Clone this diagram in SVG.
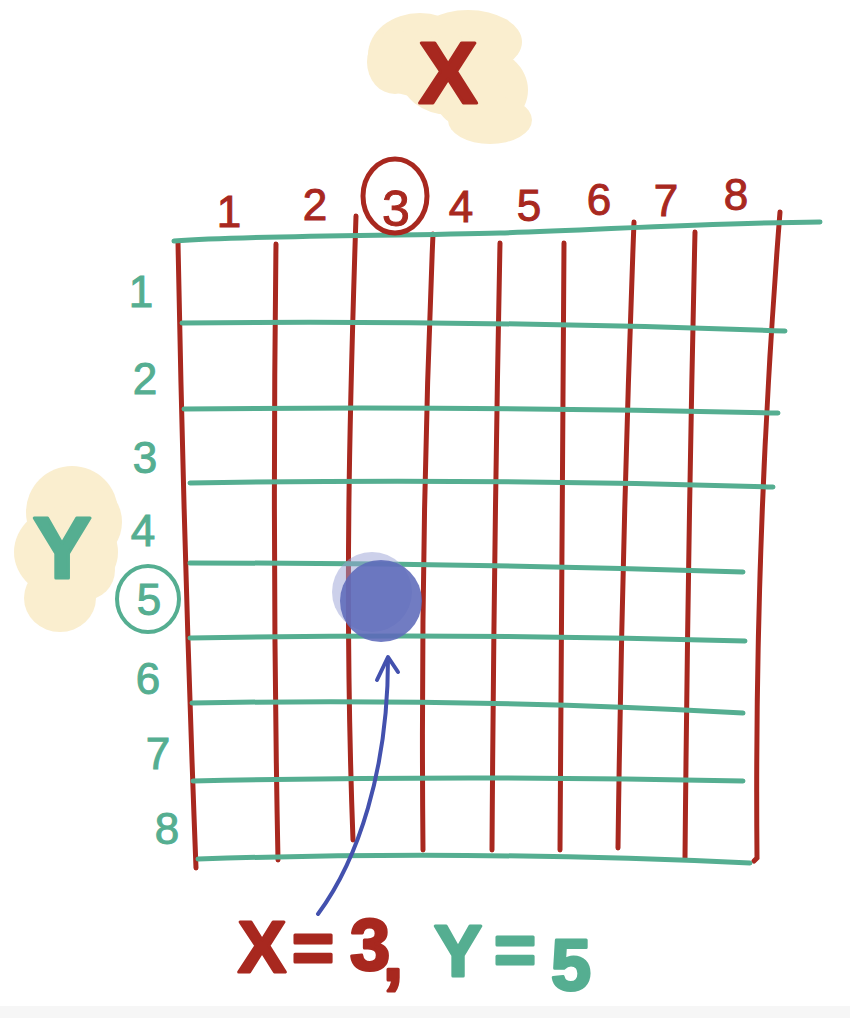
<svg xmlns="http://www.w3.org/2000/svg" width="850" height="1018" viewBox="0 0 850 1018">
<style>
.red{stroke:#a8281f;stroke-width:5;fill:none;stroke-linecap:round}
.grn{stroke:#55ae91;stroke-width:5;fill:none;stroke-linecap:round}
.blob{fill:#faeecf}
.rt{font-family:"Liberation Sans",Arial,sans-serif;font-size:44px;fill:#a8281f;stroke:#a8281f;stroke-width:1;text-anchor:middle}
.gt{font-family:"Liberation Sans",Arial,sans-serif;font-size:44px;fill:#55ae91;stroke:#55ae91;stroke-width:1;text-anchor:middle}
.big{font-family:"Liberation Sans",Arial,sans-serif;font-weight:bold;stroke-width:3;stroke-linejoin:round}
</style>
<rect width="850" height="1018" fill="#ffffff"/>
<rect y="1006" width="850" height="12" fill="#f6f6f6"/>

<g id="x-axis-label">
<g class="blob">
<ellipse cx="420" cy="55" rx="52" ry="42"/>
<ellipse cx="468" cy="42" rx="54" ry="32"/>
<ellipse cx="480" cy="90" rx="48" ry="42"/>
<ellipse cx="490" cy="120" rx="42" ry="24"/>
<ellipse cx="395" cy="62" rx="28" ry="32"/>
<ellipse cx="450" cy="75" rx="50" ry="40"/>
</g>
<text class="big" x="448" y="103" font-size="88" fill="#a8281f" stroke="#a8281f" stroke-width="4" text-anchor="middle">X</text>
</g>

<g id="y-axis-label">
<g class="blob">
<ellipse cx="72" cy="512" rx="46" ry="46"/>
<ellipse cx="66" cy="552" rx="52" ry="46"/>
<ellipse cx="60" cy="598" rx="36" ry="34"/>
<ellipse cx="98" cy="522" rx="24" ry="32"/>
<ellipse cx="85" cy="570" rx="30" ry="30"/>
</g>
<text class="big" x="62" y="578" font-size="88" fill="#55ae91" stroke="#55ae91" stroke-width="4" text-anchor="middle">Y</text>
</g>

<g id="grid">
<path class="red" d="M178,242 Q184,560 196,868"/>
<path class="red" d="M276,244 Q272,560 278,860"/>
<path class="red" d="M356,216 C350,400 344,600 353,840"/>
<path class="red" d="M433,234 Q420,540 423,850"/>
<path class="red" d="M500,243 Q494,540 492,850"/>
<path class="red" d="M564,243 Q562,540 560,850"/>
<path class="red" d="M634,222 Q622,540 618,848"/>
<path class="red" d="M695,232 Q688,540 685,858"/>
<path class="red" d="M780,212 Q754,540 757,858 L754,861"/>
<path class="grn" d="M174,241 C260,235 400,236 500,233 S700,223 820,222"/>
<path class="grn" d="M182,323 Q480,320 785,331"/>
<path class="grn" d="M184,409 Q480,406 778,413"/>
<path class="grn" d="M190,483 Q480,478 773,487"/>
<path class="grn" d="M190,563 Q470,563 743,572"/>
<path class="grn" d="M190,638 Q470,633 745,641"/>
<path class="grn" d="M192,703 Q470,698 743,713"/>
<path class="grn" d="M193,781 Q470,775 743,781"/>
<path class="grn" d="M198,859 Q470,850 750,863"/>
</g>

<g id="column-labels">
<text class="rt" x="229" y="227">1</text>
<text class="rt" x="315" y="220">2</text>
<text class="rt" x="396" y="226" style="font-size:50px">3</text>
<ellipse cx="395" cy="196" rx="32" ry="37" fill="none" stroke="#a8281f" stroke-width="5"/>
<text class="rt" x="461" y="222">4</text>
<text class="rt" x="529" y="221">5</text>
<text class="rt" x="599" y="215">6</text>
<text class="rt" x="666" y="216">7</text>
<text class="rt" x="736" y="210">8</text>
</g>

<g id="row-labels">
<text class="gt" x="141" y="307">1</text>
<text class="gt" x="145" y="394">2</text>
<text class="gt" x="145" y="473">3</text>
<text class="gt" x="143" y="546">4</text>
<text class="gt" x="149" y="615">5</text>
<ellipse cx="148" cy="599" rx="31" ry="33" fill="none" stroke="#55ae91" stroke-width="4"/>
<text class="gt" x="148" y="694">6</text>
<text class="gt" x="158" y="769">7</text>
<text class="gt" x="167" y="844">8</text>
</g>

<g id="point">
<circle cx="372" cy="592" r="40" fill="#9aa2d6" opacity="0.5"/>
<circle cx="381" cy="601" r="41" fill="#5d6ab9" opacity="0.88"/>
</g>

<g id="connectors">
<path d="M318,914 C358,860 388,770 388,659" fill="none" stroke="#4351ae" stroke-width="4" stroke-linecap="round"/>
<path d="M377,680 L388,657 L398,672" fill="none" stroke="#4351ae" stroke-width="4" stroke-linecap="round" stroke-linejoin="round"/>
</g>

<g id="caption">
<text class="big" font-size="72"><tspan fill="#a8281f" stroke="#a8281f" x="238 292 350 383" y="972 972 970 980">X=3,</tspan><tspan fill="#55ae91" stroke="#55ae91" x="410 434 494 551" y="976 976 974 990"> Y=5</tspan></text>
</g>
</svg>
